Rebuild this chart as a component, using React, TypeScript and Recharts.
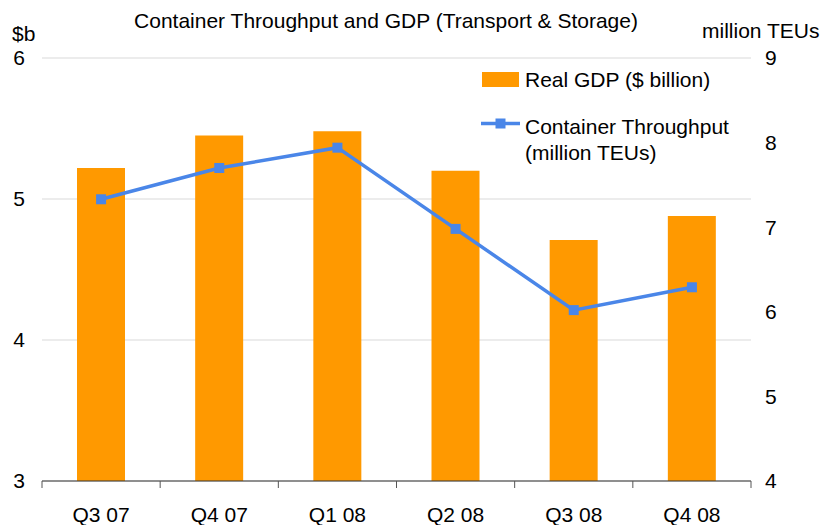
import { Bar, CartesianGrid, ComposedChart, Legend, Line, XAxis, YAxis } from "recharts";

const quarters = ["Q3 07", "Q4 07", "Q1 08", "Q2 08", "Q3 08", "Q4 08"];
const realGdp = [5.22, 5.45, 5.48, 5.2, 4.71, 4.88];
const throughput = [7.33, 7.7, 7.94, 6.98, 6.02, 6.29];
const gdpTicks = [3, 4, 5, 6];
const teuTicks = [4, 5, 6, 7, 8, 9];

const WIDTH = 821;
const HEIGHT = 525;
const LEFT_AXIS_W = 42;
const RIGHT_AXIS_W = 70;
const BAND = (WIDTH - LEFT_AXIS_W - RIGHT_AXIS_W) / quarters.length;

const FONT = "'Liberation Sans', Arial, sans-serif";
const ORANGE = "#ff9900";
const BLUE = "#4a86e8";

const data = quarters.map((q, i) => ({
  quarter: q,
  gdp: realGdp[i],
  teu: throughput[i],
}));

function QuarterTick(props: any) {
  const { x, y, payload, index } = props;
  const last = index === quarters.length - 1;
  return (
    <g>
      <line x1={x - BAND / 2} x2={x - BAND / 2} y1={y} y2={y + 7} stroke="#555" />
      {last && <line x1={x + BAND / 2} x2={x + BAND / 2} y1={y} y2={y + 7} stroke="#555" />}
      <text x={x} y={y + 41} textAnchor="middle" fontSize={21} fill="#000" fontFamily={FONT}>
        {payload.value}
      </text>
    </g>
  );
}

function SquareDot(props: any) {
  const { cx, cy } = props;
  if (cx == null || cy == null) return null;
  return <rect x={cx - 5} y={cy - 5} width={10} height={10} fill={BLUE} />;
}

// drawn in a zero-height box so the chart doesn't shrink the plot for it
function ChartLegend() {
  return (
    <div style={{ height: 0, overflow: "visible" }}>
      <svg width={330} height={110} style={{ display: "block", overflow: "visible" }}>
        <rect x={7} y={12} width={37} height={15} fill={ORANGE} />
        <text x={50} y={27} fontSize={21} fontFamily={FONT} fill="#000">
          Real GDP ($ billion)
        </text>
        <line x1={6} x2={45} y1={63.5} y2={63.5} stroke={BLUE} strokeWidth={3.5} />
        <rect x={20.5} y={58.5} width={10} height={10} fill={BLUE} />
        <text x={50} y={74} fontSize={21} fontFamily={FONT} fill="#000">
          Container Throughput
        </text>
        <text x={50} y={100} fontSize={21} fontFamily={FONT} fill="#000">
          (million TEUs)
        </text>
      </svg>
    </div>
  );
}

export default function App() {
  return (
    <div style={{ position: "absolute", left: 0, top: 0, width: WIDTH, height: HEIGHT, background: "#fff" }}>
      <ComposedChart
        width={WIDTH}
        height={HEIGHT}
        data={data}
        margin={{ top: 58, right: 0, bottom: 0, left: 0 }}
        style={{ fontFamily: FONT }}
      >
        <CartesianGrid yAxisId="gdp" vertical={false} stroke="#d9d9d9" />
        <XAxis
          dataKey="quarter"
          height={44}
          interval={0}
          tickLine={false}
          tickSize={0}
          tickMargin={0}
          axisLine={{ stroke: "#333" }}
          tick={(p: any) => <QuarterTick {...p} />}
        />
        <YAxis
          yAxisId="gdp"
          orientation="left"
          width={LEFT_AXIS_W}
          domain={[3, 6]}
          ticks={gdpTicks}
          axisLine={false}
          tickLine={false}
          tickSize={0}
          tickMargin={17}
          tick={{ fill: "#000", fontSize: 21, fontFamily: FONT }}
        />
        <YAxis
          yAxisId="teu"
          orientation="right"
          width={RIGHT_AXIS_W}
          domain={[4, 9]}
          ticks={teuTicks}
          axisLine={false}
          tickLine={false}
          tickSize={0}
          tickMargin={14}
          tick={{ fill: "#000", fontSize: 21, fontFamily: FONT }}
        />
        <Bar yAxisId="gdp" dataKey="gdp" fill={ORANGE} barSize={48} isAnimationActive={false} />
        <Line
          yAxisId="teu"
          dataKey="teu"
          stroke={BLUE}
          strokeWidth={3.5}
          dot={<SquareDot />}
          activeDot={false}
          isAnimationActive={false}
        />
        <Legend
          content={() => <ChartLegend />}
          wrapperStyle={{ position: "absolute", left: 475, top: 60, width: 330, height: 0 }}
        />
        <text x={386} y={28} textAnchor="middle" fontSize={21} fontFamily={FONT} fill="#000">
          Container Throughput and GDP (Transport &amp; Storage)
        </text>
        <text x={12} y={41} fontSize={21} fontFamily={FONT} fill="#000">
          $b
        </text>
        <text x={702} y={38} fontSize={21} fontFamily={FONT} fill="#000">
          million TEUs
        </text>
      </ComposedChart>
    </div>
  );
}
